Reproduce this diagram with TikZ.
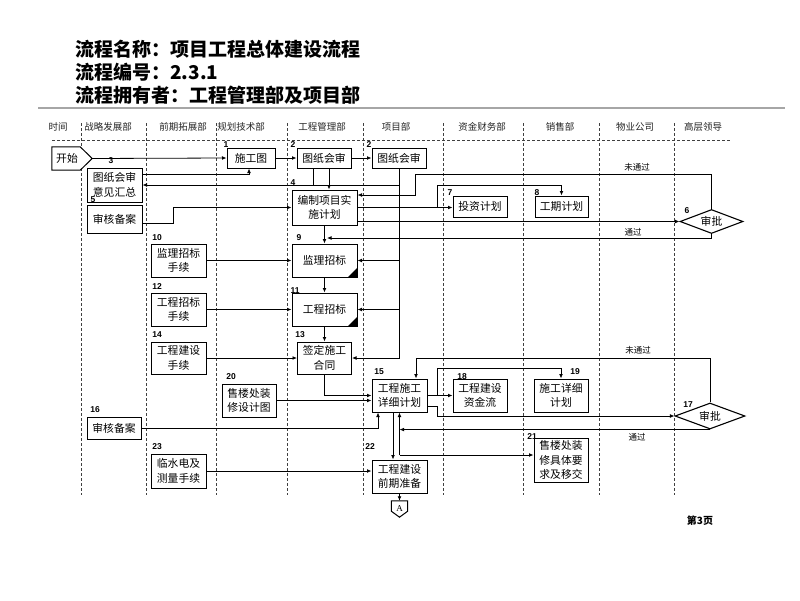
\documentclass[tikz,border=0pt]{standalone}
\usepackage{fontspec}
\setmainfont{Liberation Serif}
\newfontfamily\cjk{Noto Sans CJK SC}
\newfontfamily\numf{Liberation Sans}
\usetikzlibrary{arrows.meta,shapes.geometric,shapes.symbols}
\tikzset{
  box/.style={draw, line width=1pt, inner sep=0pt, align=center, font=\cjk\fontsize{10.8}{14.5}\selectfont},
  num/.style={font=\numf\bfseries\fontsize{8.5}{8.5}\selectfont, inner sep=0pt},
  arr/.style={-{Latex[length=4.5pt,width=3.8pt]}, line width=0.8pt},
  ln/.style={line width=0.8pt},
  sep/.style={dash pattern=on 3pt off 2pt, line width=0.6pt, black!75},
  hdr/.style={font=\cjk\fontsize{9.5}{10}\selectfont, text=black!85, inner sep=0pt},
  ttl/.style={font=\cjk\bfseries\fontsize{19}{20}\selectfont, anchor=west, inner sep=0pt},
  dec/.style={draw, diamond, aspect=2.6, line width=1.1pt, inner sep=0pt, font=\cjk\fontsize{10.8}{12}\selectfont},
  lab/.style={font=\cjk\fontsize{8.5}{9}\selectfont, inner sep=0pt},
}
\begin{document}
\begin{tikzpicture}[x=1pt,y=-1pt]
\fill[white] (0,0) rectangle (800,600);
\useasboundingbox (0,0) rectangle (800,600);

% title
\node[ttl] (t1) at (75,49) {流程名称：项目工程总体建设流程};
\node[ttl] (t2) at (75,72) {流程编号：2.3.1};
\node[ttl] (t3) at (75,95) {流程拥有者：工程管理部及项目部};
\draw[line width=1.6pt, black!35] (38,108) -- (785,108);

% header
\node[hdr] (h0) at (58,127) {时间};
\node[hdr] (h1) at (108,127) {战略发展部};
\node[hdr] (h2) at (183,127) {前期拓展部};
\node[hdr] (h3) at (241,127) {规划技术部};
\node[hdr] (h4) at (322,127) {工程管理部};
\node[hdr] (h5) at (396,127) {项目部};
\node[hdr] (h6) at (482,127) {资金财务部};
\node[hdr] (h7) at (560,127) {销售部};
\node[hdr] (h8) at (635,127) {物业公司};
\node[hdr] (h9) at (703,127) {高层领导};
\draw[sep] (52,140) -- (730,140);
\foreach \xx in {81,146,216,287,363,443,523,599,674}
  \draw[sep] (\xx,123) -- (\xx,495);

% nodes
\node[inner sep=0pt, minimum width=40pt, minimum height=23pt] (start) at (72,158.5) {};
\draw[line width=1pt, fill=white] (start.north west) -- ([xshift=-12pt]start.north east) -- (start.east) -- ([xshift=-12pt]start.south east) -- (start.south west) -- cycle;
\node[inner sep=0pt, font=\cjk\fontsize{10.8}{12}\selectfont] (startt) at (67,158.5) {开始};
\node[box, minimum width=48pt, minimum height=20pt] (n1) at (251,158) {施工图};
\node[box, minimum width=54pt, minimum height=20pt] (n2a) at (324,158) {图纸会审};
\node[box, minimum width=54pt, minimum height=20pt] (n2b) at (399,158) {图纸会审};
\node[box, minimum width=55pt, minimum height=34pt] (n3) at (114.5,185) {图纸会审\\意见汇总};
\node[box, minimum width=65pt, minimum height=35pt] (n4) at (324.5,207.5) {编制项目实\\施计划};
\node[box, minimum width=55pt, minimum height=28pt] (n5) at (114.5,219) {审核备案};
\node[dec, minimum width=63pt, minimum height=24pt] (n6) at (711.5,221.5) {审批};
\node[box, minimum width=54pt, minimum height=21pt] (n7) at (480,206.5) {投资计划};
\node[box, minimum width=53pt, minimum height=21pt] (n8) at (561.5,206.5) {工期计划};
\node[box, minimum width=65pt, minimum height=33pt] (n9) at (324.5,260.5) {监理招标};
\node[box, minimum width=55pt, minimum height=33pt] (n10) at (178.5,260.5) {监理招标\\手续};
\node[box, minimum width=65pt, minimum height=33pt] (n11) at (324.5,309.5) {工程招标};
\node[box, minimum width=55pt, minimum height=33pt] (n12) at (178.5,309.5) {工程招标\\手续};
\node[box, minimum width=54pt, minimum height=32pt] (n13) at (324.5,358) {签定施工\\合同};
\node[box, minimum width=55pt, minimum height=32pt] (n14) at (178.5,358) {工程建设\\手续};
\node[box, minimum width=55pt, minimum height=33pt] (n15) at (399.5,395.5) {工程施工\\详细计划};
\node[box, minimum width=54pt, minimum height=22pt] (n16) at (114,428) {审核备案};
\node[dec, minimum width=70pt, minimum height=26pt] (n17) at (710,416) {审批};
\node[box, minimum width=54pt, minimum height=33pt] (n18) at (480,395.5) {工程建设\\资金流};
\node[box, minimum width=54pt, minimum height=33pt] (n19) at (561,395.5) {施工详细\\计划};
\node[box, minimum width=54pt, minimum height=33pt] (n20) at (249,400.5) {售楼处装\\修设计图};
\node[box, minimum width=54pt, minimum height=44pt] (n21) at (561,460) {售楼处装\\修具体要\\求及移交};
\node[box, minimum width=55pt, minimum height=33pt] (n22) at (399.5,476.5) {工程建设\\前期准备};
\node[box, minimum width=55pt, minimum height=34pt] (n23) at (178.5,471) {临水电及\\测量手续};
\node[inner sep=0pt, minimum width=16pt, minimum height=16pt, font=\fontsize{9}{9}\selectfont] (conA) at (399.5,509) {A};
\draw[line width=1pt] (conA.north west) -- (conA.north east) -- ([yshift=6pt]conA.south east) -- (conA.south) -- ([yshift=6pt]conA.south west) -- cycle;

% corner triangles
\fill ([xshift=-10pt]n9.south east) -- (n9.south east) -- ([yshift=10pt]n9.south east) -- cycle;
\fill ([xshift=-10pt]n11.south east) -- (n11.south east) -- ([yshift=10pt]n11.south east) -- cycle;

% numbers
\node[num] (l1) at (226,145) {1};
\node[num] (l2a) at (293,145) {2};
\node[num] (l2b) at (369,145) {2};
\node[num] (l3) at (111,161) {3};
\node[num] (l4) at (293,183) {4};
\node[num] (l5) at (93,200) {5};
\node[num] (l6) at (687,211) {6};
\node[num] (l7) at (450,193) {7};
\node[num] (l8) at (537,193) {8};
\node[num] (l9) at (299,238) {9};
\node[num] (l10) at (157,238) {10};
\node[num] (l11) at (295,291) {11};
\node[num] (l12) at (157,287) {12};
\node[num] (l13) at (300,335) {13};
\node[num] (l14) at (157,335) {14};
\node[num] (l15) at (379,372) {15};
\node[num] (l16) at (95,410) {16};
\node[num] (l17) at (688,405) {17};
\node[num] (l18) at (462,377) {18};
\node[num] (l19) at (575,372) {19};
\node[num] (l20) at (231,377) {20};
\node[num] (l21) at (532,437) {21};
\node[num] (l22) at (370,447) {22};
\node[num] (l23) at (157,447) {23};

% helper coordinates
\coordinate (k174) at (0,174);
\coordinate (k5) at (173,223);
\coordinate (k8) at (437,185);
\coordinate (k6a) at (415,174);
\coordinate (k6b) at (327,238);
\coordinate (k17a) at (416,358);
\coordinate (k19) at (437,368);
\coordinate (k17c) at (437,416);
\coordinate (j15) at (399.5,455);

% connectors
\draw[arr] (start.east) -- (n1.west);
\draw[arr] (n1.east) -- (n2a.west);
\draw[arr] (n2a.east) -- (n2b.west);
\draw[arr] (n3.east |- k174) -| ([xshift=-2pt]n1.south);
\draw[arr] (n2b.south) |- (n13.east);
\draw[arr] (n2b.south |- n3.east) -- (n3.east);
\draw[ln] ([xshift=-11pt]n2a.south) -- ([xshift=-11pt]n2a.south |- n3.east);
\draw[arr] ([xshift=5pt]n2a.south) -- ([xshift=5pt]n2a.south |- n4.north);
\draw[arr] ([yshift=-4pt]n5.east) -- (k5) |- (n4.west);
\draw[arr] (n4.east) -- (n4.east -| n7.west);
\draw[arr] (k8 |- n4.east) -- (k8) -| (n8.north);
\draw[arr] ([yshift=-14pt]n4.east) -- (n6.west);
\draw[arr] (n6.north) |- (k6a) |- ([yshift=12.5pt]n4.east);
\draw[arr] (n6.south) |- (k6b);
\node[lab] (u6) at (637,167) {未通过};
\node[lab] (p6) at (633,232) {通过};
\draw[arr] (n4.south) -- (n9.north);
\draw[arr] (n10.east) -- (n9.west);
\draw[arr] (n12.east) -- (n11.west);
\draw[arr] (n14.east) -- (n13.west);
\draw[arr] (n9.south) -- (n11.north);
\draw[arr] (n11.south) -- (n11.south |- n13.north);
\draw[arr] (n2b.south |- n9.east) -- (n9.east);
\draw[arr] (n2b.south |- n11.east) -- (n11.east);
\draw[arr] (n13.south) |- (n15.west);
\draw[arr] (n20.east) -- (n20.east -| n15.west);
\draw[arr] (n16.east) -| ([xshift=-21.5pt]n15.south);
\draw[arr] (n23.east) -- (n23.east -| n22.west);
\draw[arr] ([xshift=-6.5pt]n15.south) -- ([xshift=-6.5pt]n15.south |- n22.north);
\draw[arr] (j15) -- (n15.south);
\draw[arr] (j15) -- ([yshift=5pt]n21.west);
\draw[arr] (n17.south) -- (n17.south -| j15);
\draw[arr] (n17.north) |- (k17a) -- (k17a |- n15.north);
\node[lab] (u17) at (638,350) {未通过};
\node[lab] (p17) at (637,437) {通过};
\draw[arr] (n15.east) -- (n18.west);
\draw[arr] (k19 |- n15.east) -- (k19) -| (n19.north);
\draw[arr] ([yshift=-10.5pt]n15.east) -| (k17c) -- (n17.west);
\draw[arr] (n22.south) -- (conA.north);

\node[font=\cjk\bfseries\fontsize{10}{10}\selectfont, inner sep=0pt] (pg) at (700,521) {第3页};
\end{tikzpicture}
\end{document}
